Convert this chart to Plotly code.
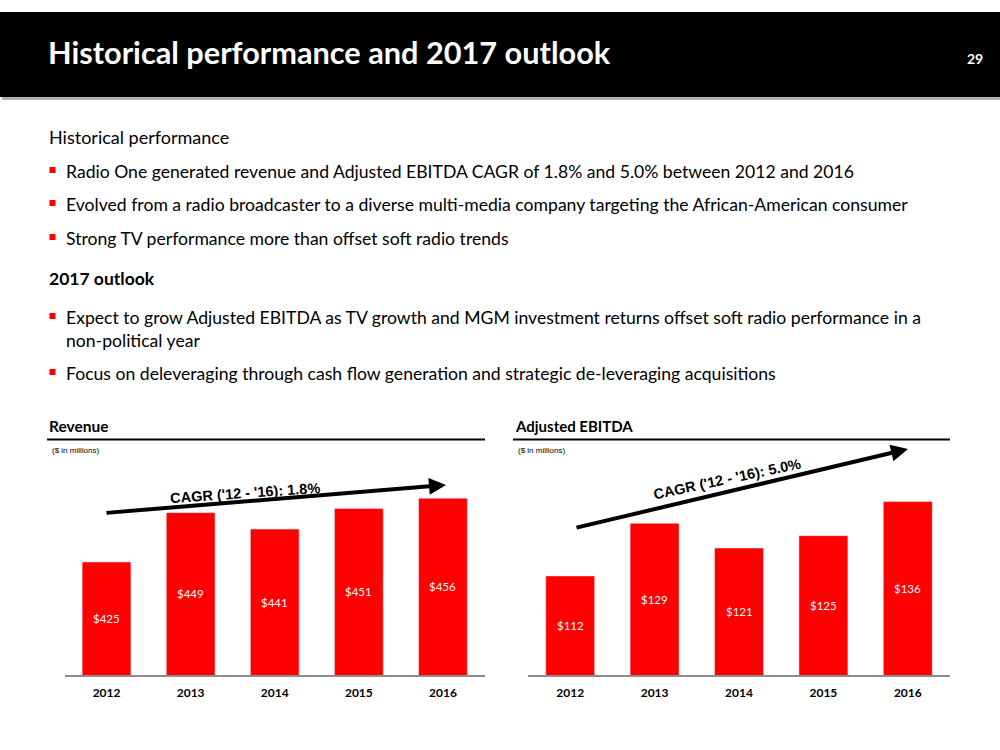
import plotly.graph_objects as go

years = ["2012", "2013", "2014", "2015", "2016"]
revenue = [425, 449, 441, 451, 456]
ebitda = [112, 129, 121, 125, 136]

title = "Historical performance and 2017 outlook"
page_no = "29"
sec1 = "Historical performance"
bullets1 = [
    "Radio One generated revenue and Adjusted EBITDA CAGR of 1.8% and 5.0% between 2012 and 2016",
    "Evolved from a radio broadcaster to a diverse multi-media company targeting the African-American consumer",
    "Strong TV performance more than offset soft radio trends",
]
sec2 = "2017 outlook"
bullets2 = [
    "Expect to grow Adjusted EBITDA as TV growth and MGM investment returns offset soft radio performance in a<br>non-political year",
    "Focus on deleveraging through cash flow generation and strategic de-leveraging acquisitions",
]
rev_cagr = "CAGR ('12 - '16): 1.8%"
ebitda_cagr = "CAGR ('12 - '16): 5.0%"

W, H = 1000, 750
RED = "#FF0000"
FONT = "Lato"


def X(px):
    return px / W


def Y(py):
    return 1 - py / H


fig = go.Figure()
fig.add_trace(go.Bar(x=years, y=revenue, xaxis="x", yaxis="y", marker_color=RED,
                     width=0.58, textposition="none", hoverinfo="x+y"))
fig.add_trace(go.Bar(x=years, y=ebitda, xaxis="x2", yaxis="y2", marker_color=RED,
                     width=0.58, textposition="none", hoverinfo="x+y"))

base_py = 675
top_py = 455
ydom = [Y(base_py), Y(top_py)]
rev_scale = 2.055
eb_scale = 3.096
rev_base = 370
eb_base = 80

xcommon = dict(type="category", range=[-0.5, 4.5], showline=True, linecolor="#8c8c8c", linewidth=1.5,
               ticks="", tickfont=dict(family=FONT, size=12, color="black", weight="bold"),
               showgrid=False, zeroline=False, fixedrange=True, ticklabelstandoff=6)
ycommon = dict(type="linear", visible=False, showgrid=False, zeroline=False, fixedrange=True)

shapes = []
annotations = []

# value labels centred in the visible part of each bar
for xref, yref, vals, base in [("x", "y", revenue, rev_base), ("x2", "y2", ebitda, eb_base)]:
    for i, v in enumerate(vals):
        annotations.append(dict(text=f"${v}", x=i, y=(v + base) / 2, xref=xref, yref=yref,
                                showarrow=False, xanchor="center", yanchor="middle",
                                font=dict(family=FONT, size=11.5, color="white")))

# title bar
shapes.append(dict(type="rect", xref="paper", yref="paper", x0=X(2), x1=X(1000), y0=Y(100), y1=Y(15),
                   fillcolor="#b0b0b0", line_width=0, layer="below"))
shapes.append(dict(type="rect", xref="paper", yref="paper", x0=X(0), x1=X(1000), y0=Y(97), y1=Y(12),
                   fillcolor="black", line_width=0, layer="below"))
annotations.append(dict(text=f"<b>{title}</b>", x=X(46), y=Y(53), xref="paper", yref="paper",
                        xanchor="left", yanchor="middle", showarrow=False,
                        font=dict(family=FONT, size=30.7, color="white")))
annotations.append(dict(text=f"<b>{page_no}</b>", x=X(975), y=Y(58), xref="paper", yref="paper",
                        xanchor="center", yanchor="middle", showarrow=False,
                        font=dict(family=FONT, size=14, color="white")))


def section(text, py, size):
    annotations.append(dict(text=text, x=X(47), y=Y(py), xref="paper", yref="paper",
                            xanchor="left", yanchor="middle", showarrow=False,
                            font=dict(family=FONT, size=size, color="black")))


def bullet(text, py):
    shapes.append(dict(type="rect", xref="paper", yref="paper", x0=X(49.5), x1=X(55.5),
                       y0=Y(py + 3), y1=Y(py - 3), fillcolor=RED, line_width=0))
    annotations.append(dict(text=text, x=X(64), y=Y(py - 11.5), xref="paper", yref="paper",
                            xanchor="left", yanchor="top", align="left", showarrow=False,
                            font=dict(family=FONT, size=17.6, color="black")))


section(sec1, 137, 18)
for t, py in zip(bullets1, [170, 203, 237]):
    bullet(t, py)
section(f"<b>{sec2}</b>", 278, 17.5)
bullet(bullets2[0], 316)
bullet(bullets2[1], 372)

# chart headers
for txt, x0, x1, sz in [("Revenue", 47, 485, 15.5), ("Adjusted EBITDA", 513, 950, 15)]:
    annotations.append(dict(text=f"<b>{txt}</b>", x=X(x0), y=Y(426), xref="paper", yref="paper",
                            xanchor="left", yanchor="middle", showarrow=False,
                            font=dict(family=FONT, size=sz, color="black")))
    shapes.append(dict(type="line", xref="paper", yref="paper", x0=X(x0), x1=X(x1),
                       y0=Y(439.5), y1=Y(439.5), line=dict(color="black", width=2)))
    annotations.append(dict(text="($ in millions)", x=X(x0 + 3), y=Y(450), xref="paper", yref="paper",
                            xanchor="left", yanchor="middle", showarrow=False,
                            font=dict(family="Liberation Sans", size=8, color="black")))

# CAGR arrows
for (tx, ty), (hx, hy), (cx, cy), ang, txt in [
    ((105, 513), (446, 485), (245, 493), -4, rev_cagr),
    ((575, 528), (908, 449), (727, 479), -12, ebitda_cagr),
]:
    annotations.append(dict(x=X(hx), y=Y(hy), xref="paper", yref="paper",
                            ax=tx - hx, ay=ty - hy, axref="pixel", ayref="pixel",
                            text="", showarrow=True, arrowhead=2, arrowsize=0.85,
                            arrowwidth=4, arrowcolor="black"))
    annotations.append(dict(text=f"<b>{txt}</b>", x=X(cx), y=Y(cy), xref="paper", yref="paper",
                            xanchor="center", yanchor="middle", showarrow=False, textangle=ang,
                            font=dict(family="Liberation Sans", size=14.5, color="black")))

fig.update_layout(
    width=W, height=H,
    margin=dict(l=0, r=0, t=0, b=0, autoexpand=False),
    paper_bgcolor="white", plot_bgcolor="rgba(0,0,0,0)",
    showlegend=False,
    xaxis=dict(domain=[X(64.5), X(485)], anchor="y", **xcommon),
    yaxis=dict(domain=ydom, range=[rev_base, rev_base + (base_py - top_py) / rev_scale], anchor="x", **ycommon),
    xaxis2=dict(domain=[X(528), X(950)], anchor="y2", **xcommon),
    yaxis2=dict(domain=ydom, range=[eb_base, eb_base + (base_py - top_py) / eb_scale], anchor="x2", **ycommon),
    shapes=shapes, annotations=annotations,
)

fig.write_html("out.html", config={"displayModeBar": False},
               post_script="document.body.style.margin='0';document.body.style.padding='0';")
